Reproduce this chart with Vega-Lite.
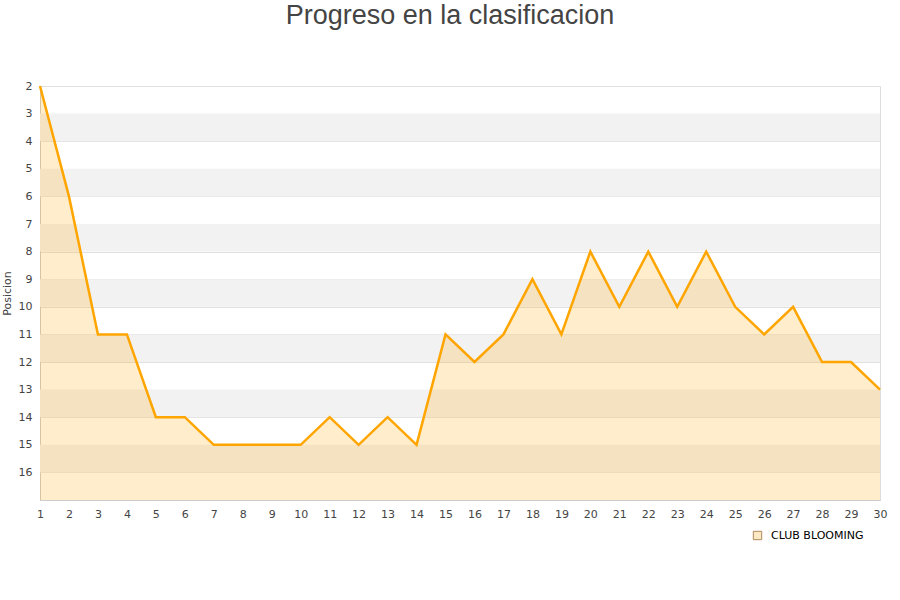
{
  "$schema": "https://vega.github.io/schema/vega-lite/v6.json",
  "autosize": "none",
  "width": 840,
  "height": 414,
  "padding": {"left": 40, "top": 86, "right": 20, "bottom": 100},
  "background": "white",
  "title": {
    "text": "Progreso en la clasificacion",
    "font": "Liberation Sans",
    "fontSize": 27,
    "fontWeight": "normal",
    "color": "#444444",
    "anchor": "middle",
    "dx": -10,
    "offset": 50
  },
  "config": {
    "view": {"stroke": "#dddddd"},
    "axis": {
      "labelFont": "DejaVu Sans",
      "labelFontSize": 11,
      "labelColor": "#444444",
      "labelOverlap": false,
      "titleFont": "DejaVu Sans",
      "titleFontSize": 11,
      "titleFontWeight": "normal",
      "titleColor": "#444444",
      "ticks": false,
      "domainColor": "#cccccc",
      "gridColor": "#e0e0e0"
    }
  },
  "datasets": {
    "bands": [
      {"y": 3, "y2": 4}, {"y": 5, "y2": 6}, {"y": 7, "y2": 8}, {"y": 9, "y2": 10},
      {"y": 11, "y2": 12}, {"y": 13, "y2": 14}, {"y": 15, "y2": 16}
    ],
    "progreso": [
      {"jornada": 1, "pos": 2, "equipo": "CLUB BLOOMING"},
      {"jornada": 2, "pos": 6, "equipo": "CLUB BLOOMING"},
      {"jornada": 3, "pos": 11, "equipo": "CLUB BLOOMING"},
      {"jornada": 4, "pos": 11, "equipo": "CLUB BLOOMING"},
      {"jornada": 5, "pos": 14, "equipo": "CLUB BLOOMING"},
      {"jornada": 6, "pos": 14, "equipo": "CLUB BLOOMING"},
      {"jornada": 7, "pos": 15, "equipo": "CLUB BLOOMING"},
      {"jornada": 8, "pos": 15, "equipo": "CLUB BLOOMING"},
      {"jornada": 9, "pos": 15, "equipo": "CLUB BLOOMING"},
      {"jornada": 10, "pos": 15, "equipo": "CLUB BLOOMING"},
      {"jornada": 11, "pos": 14, "equipo": "CLUB BLOOMING"},
      {"jornada": 12, "pos": 15, "equipo": "CLUB BLOOMING"},
      {"jornada": 13, "pos": 14, "equipo": "CLUB BLOOMING"},
      {"jornada": 14, "pos": 15, "equipo": "CLUB BLOOMING"},
      {"jornada": 15, "pos": 11, "equipo": "CLUB BLOOMING"},
      {"jornada": 16, "pos": 12, "equipo": "CLUB BLOOMING"},
      {"jornada": 17, "pos": 11, "equipo": "CLUB BLOOMING"},
      {"jornada": 18, "pos": 9, "equipo": "CLUB BLOOMING"},
      {"jornada": 19, "pos": 11, "equipo": "CLUB BLOOMING"},
      {"jornada": 20, "pos": 8, "equipo": "CLUB BLOOMING"},
      {"jornada": 21, "pos": 10, "equipo": "CLUB BLOOMING"},
      {"jornada": 22, "pos": 8, "equipo": "CLUB BLOOMING"},
      {"jornada": 23, "pos": 10, "equipo": "CLUB BLOOMING"},
      {"jornada": 24, "pos": 8, "equipo": "CLUB BLOOMING"},
      {"jornada": 25, "pos": 10, "equipo": "CLUB BLOOMING"},
      {"jornada": 26, "pos": 11, "equipo": "CLUB BLOOMING"},
      {"jornada": 27, "pos": 10, "equipo": "CLUB BLOOMING"},
      {"jornada": 28, "pos": 12, "equipo": "CLUB BLOOMING"},
      {"jornada": 29, "pos": 12, "equipo": "CLUB BLOOMING"},
      {"jornada": 30, "pos": 13, "equipo": "CLUB BLOOMING"}
    ]
  },
  "layer": [
    {
      "data": {"name": "bands"},
      "mark": {"type": "rect", "color": "#f2f2f2"},
      "encoding": {
        "y": {"field": "y", "type": "quantitative", "scale": {"domain": [2, 17], "reverse": true, "nice": false, "zero": false},
          "axis": {"title": "Posicion", "values": [2,3,4,5,6,7,8,9,10,11,12,13,14,15,16], "tickCount": 15, "grid": true, "labelOverlap": false, "labelPadding": 8, "titlePadding": 6, "domain": true}},
        "y2": {"field": "y2"}
      }
    },
    {
      "data": {"name": "progreso"},
      "mark": {"type": "area", "color": "#ffa500", "fillOpacity": 0.2, "interpolate": "linear"},
      "encoding": {
        "x": {"field": "jornada", "type": "quantitative", "scale": {"domain": [1, 30], "nice": false, "zero": false},
          "axis": {"title": null, "values": [1,2,3,4,5,6,7,8,9,10,11,12,13,14,15,16,17,18,19,20,21,22,23,24,25,26,27,28,29,30], "tickCount": 30, "grid": false, "labelOverlap": false, "labelPadding": 8, "labelFlush": false}},
        "y": {"field": "pos", "type": "quantitative", "axis": {"title": "Posicion", "values": [2,3,4,5,6,7,8,9,10,11,12,13,14,15,16], "tickCount": 15, "grid": true, "labelOverlap": false, "labelPadding": 8, "titlePadding": 6, "domain": true}},
        "y2": {"datum": 17}
      }
    },
    {
      "data": {"name": "progreso"},
      "mark": {"type": "line", "color": "#ffa500", "strokeWidth": 2.5},
      "encoding": {
        "x": {"field": "jornada", "type": "quantitative", "axis": {"title": null, "values": [1,2,3,4,5,6,7,8,9,10,11,12,13,14,15,16,17,18,19,20,21,22,23,24,25,26,27,28,29,30], "tickCount": 30, "grid": false, "labelOverlap": false, "labelPadding": 8, "labelFlush": false}},
        "y": {"field": "pos", "type": "quantitative", "axis": {"title": "Posicion", "values": [2,3,4,5,6,7,8,9,10,11,12,13,14,15,16], "tickCount": 15, "grid": true, "labelOverlap": false, "labelPadding": 8, "titlePadding": 6, "domain": true}}
      }
    },
    {
      "data": {"name": "progreso"},
      "mark": {"type": "square", "filled": true, "size": 0, "stroke": "#b08a5a", "strokeWidth": 1, "opacity": 1},
      "encoding": {
        "x": {"field": "jornada", "type": "quantitative", "axis": {"title": null, "values": [1,2,3,4,5,6,7,8,9,10,11,12,13,14,15,16,17,18,19,20,21,22,23,24,25,26,27,28,29,30], "tickCount": 30, "grid": false, "labelOverlap": false, "labelPadding": 8, "labelFlush": false}},
        "y": {"field": "pos", "type": "quantitative", "axis": {"title": "Posicion", "values": [2,3,4,5,6,7,8,9,10,11,12,13,14,15,16], "tickCount": 15, "grid": true, "labelOverlap": false, "labelPadding": 8, "titlePadding": 6, "domain": true}},
        "color": {"field": "equipo", "type": "nominal", "scale": {"range": ["#fde8c4"]},
          "legend": {"title": null, "orient": "none", "legendX": 712, "legendY": 444, "symbolType": "square", "symbolSize": 70, "symbolStrokeColor": "#b08a5a", "symbolStrokeWidth": 1, "labelFont": "DejaVu Sans", "labelFontSize": 11, "labelColor": "#000000", "labelOffset": 8}}
      }
    }
  ]
}
